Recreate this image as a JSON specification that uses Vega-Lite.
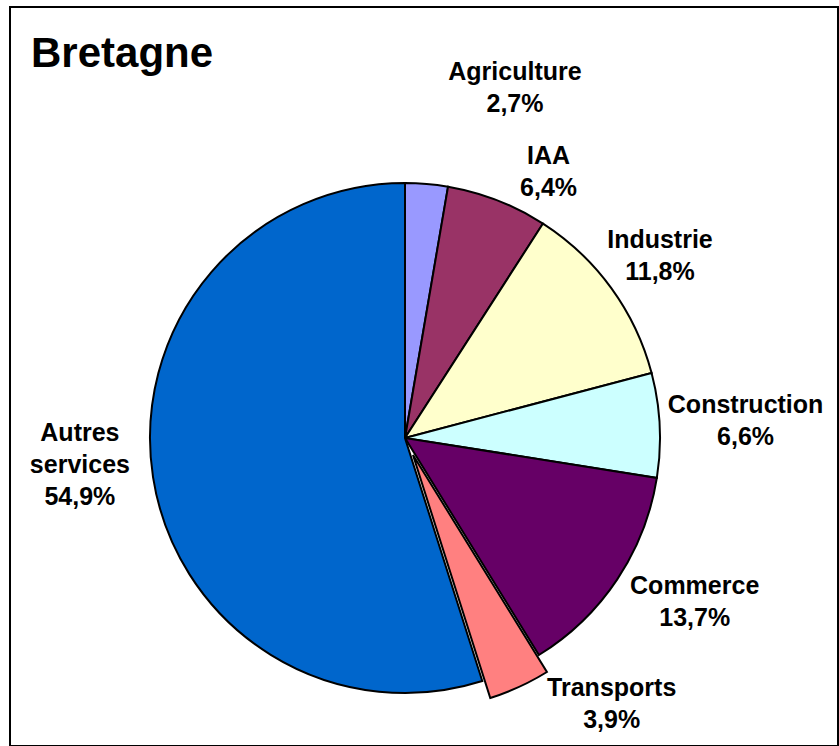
{
  "$schema": "https://vega.github.io/schema/vega-lite/v6.json",
  "autosize": {"type": "none"},
  "padding": {"left": 10, "top": 7, "right": 1, "bottom": 0},
  "width": 828,
  "height": 739,
  "background": "white",
  "view": {"stroke": "black", "strokeWidth": 2, "fill": "white"},
  "config": {"view": {"stroke": "black", "strokeWidth": 2}},
  "title": {
    "text": "Bretagne",
    "anchor": "start",
    "frame": "group",
    "orient": "top",
    "offset": -102,
    "dx": 21,
    "font": "Liberation Sans",
    "fontSize": 42,
    "fontWeight": "bold",
    "color": "black",
    "baseline": "alphabetic"
  },
  "data": {
    "values": [
      {"ord": 1, "cat": "Agriculture", "value": 2.7, "label": "Agriculture\n2,7%"},
      {"ord": 2, "cat": "IAA", "value": 6.4, "label": "IAA\n6,4%"},
      {"ord": 3, "cat": "Industrie", "value": 11.8, "label": "Industrie\n11,8%"},
      {"ord": 4, "cat": "Construction", "value": 6.6, "label": "Construction\n6,6%"},
      {"ord": 5, "cat": "Commerce", "value": 13.7, "label": "Commerce\n13,7%"},
      {"ord": 6, "cat": "Transports", "value": 3.9, "label": "Transports\n3,9%"},
      {"ord": 7, "cat": "Autres services", "value": 54.9, "label": "Autres\nservices\n54,9%"}
    ]
  },
  "encoding": {
    "theta": {"field": "value", "type": "quantitative", "stack": true},
    "order": {"field": "ord", "type": "quantitative"}
  },
  "layer": [
    {
      "mark": {
        "type": "arc",
        "outerRadius": 255,
        "stroke": "black",
        "strokeWidth": 2,
        "x": {"expr": "width/2-19"},
        "y": {"expr": "height/2+61.5"},
        "xOffset": {"expr": "datum.cat === 'Transports' ? 8 : 0"},
        "yOffset": {"expr": "datum.cat === 'Transports' ? 17 : 0"}
      },
      "encoding": {
        "color": {
          "field": "cat",
          "type": "nominal",
          "scale": {
            "domain": ["Agriculture", "IAA", "Industrie", "Construction", "Commerce", "Transports", "Autres services"],
            "range": ["#9999FF", "#993366", "#FFFFCC", "#CCFFFF", "#660066", "#FF8080", "#0066CC"]
          },
          "legend": null
        }
      }
    },
    {
      "mark": {
        "type": "text",
        "radius": 330,
        "x": {"expr": "width/2-19"},
        "y": {"expr": "height/2+61.5"},
        "font": "Liberation Sans",
        "fontWeight": "bold",
        "fontSize": 25,
        "lineHeight": 32,
        "lineBreak": "\n",
        "color": "black",
        "dx": {"expr": "datum.ord == 1 ? 82 : datum.ord == 2 ? 24 : datum.ord == 3 ? -12 : datum.ord == 4 ? 11 : datum.ord == 5 ? 15 : datum.ord == 6 ? 69 : 1"},
        "dy": {"expr": "datum.ord == 1 ? -37 : datum.ord == 2 ? 26 : datum.ord == 3 ? -4 : datum.ord == 4 ? -16 : datum.ord == 5 ? -35 : datum.ord == 6 ? -50 : -56"}
      },
      "encoding": {
        "text": {"field": "label"},
        "detail": {"field": "cat"}
      }
    }
  ]
}
